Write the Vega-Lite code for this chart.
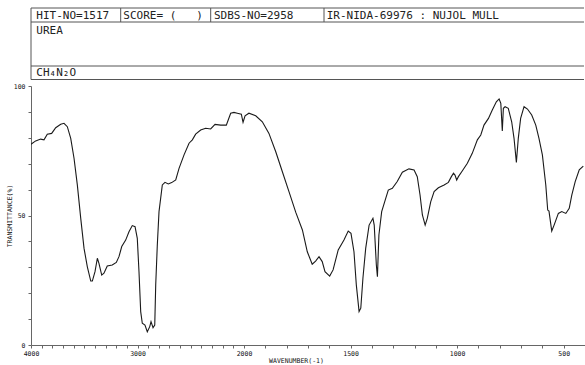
{
  "$schema": "https://vega.github.io/schema/vega-lite/v6.json",
  "background": "white",
  "padding": {"left": 6, "top": 7, "right": 0, "bottom": 0},
  "spacing": 3,
  "config": {
    "view": {"stroke": null},
    "axis": {
      "domainColor": "#666666",
      "tickColor": "#666666",
      "labelColor": "#111111",
      "titleColor": "#111111",
      "labelFont": "DejaVu Sans Mono",
      "titleFont": "DejaVu Sans Mono",
      "labelFontSize": 6.5,
      "titleFontSize": 6.5,
      "titleFontWeight": "normal",
      "grid": false,
      "tickSize": 3,
      "labelOverlap": false,
      "labelFlush": false
    }
  },
  "datasets": {
    "header_rules": [
      {"c1": 0, "c2": 553, "r1": 0, "r2": 0},
      {"c1": 0, "c2": 553, "r1": 14, "r2": 14},
      {"c1": 0, "c2": 553, "r1": 58, "r2": 58},
      {"c1": 0, "c2": 553, "r1": 71.5, "r2": 71.5},
      {"c1": 0, "c2": 0, "r1": 0, "r2": 71.5},
      {"c1": 89.7, "c2": 89.7, "r1": 0, "r2": 14},
      {"c1": 179.7, "c2": 179.7, "r1": 0, "r2": 14},
      {"c1": 293, "c2": 293, "r1": 0, "r2": 14}
    ],
    "header_text": [
      {"label": "HIT-NO=1517", "c": 5.3, "r": 7.5},
      {"label": "SCORE=\u00a0(\u00a0\u00a0\u00a0)", "c": 92.3, "r": 7.5},
      {"label": "SDBS-NO=2958", "c": 183, "r": 7.5},
      {"label": "IR-NIDA-69976 : NUJOL MULL", "c": 295.7, "r": 7.5},
      {"label": "UREA", "c": 5.3, "r": 22.5},
      {"label": "CH₄N₂O", "c": 5.3, "r": 64.5}
    ],
    "spectrum": [
      {"wn": 4000, "t": 77.5}, {"wn": 3956, "t": 78.8}, {"wn": 3909, "t": 79.5}, {"wn": 3878, "t": 79.2},
      {"wn": 3847, "t": 81.4}, {"wn": 3806, "t": 81.7}, {"wn": 3768, "t": 83.9}, {"wn": 3721, "t": 85.2},
      {"wn": 3690, "t": 85.6}, {"wn": 3659, "t": 84.3}, {"wn": 3627, "t": 79.8}, {"wn": 3596, "t": 72.1},
      {"wn": 3565, "t": 61.8}, {"wn": 3533, "t": 48.9}, {"wn": 3502, "t": 37.3}, {"wn": 3471, "t": 30.2},
      {"wn": 3439, "t": 24.7}, {"wn": 3424, "t": 24.7}, {"wn": 3399, "t": 28.3}, {"wn": 3377, "t": 33.5},
      {"wn": 3362, "t": 31.5}, {"wn": 3336, "t": 27.0}, {"wn": 3315, "t": 27.7}, {"wn": 3284, "t": 30.5},
      {"wn": 3237, "t": 30.9}, {"wn": 3199, "t": 31.9}, {"wn": 3174, "t": 34.1}, {"wn": 3148, "t": 38.0},
      {"wn": 3111, "t": 40.5}, {"wn": 3080, "t": 43.7}, {"wn": 3049, "t": 46.1}, {"wn": 3023, "t": 45.7},
      {"wn": 3002, "t": 41.2}, {"wn": 2986, "t": 28.3}, {"wn": 2970, "t": 12.9}, {"wn": 2955, "t": 8.4},
      {"wn": 2930, "t": 7.7}, {"wn": 2908, "t": 5.1}, {"wn": 2885, "t": 7.1}, {"wn": 2873, "t": 9.0},
      {"wn": 2854, "t": 6.7}, {"wn": 2838, "t": 7.7}, {"wn": 2829, "t": 23.2}, {"wn": 2814, "t": 38.6},
      {"wn": 2798, "t": 51.5}, {"wn": 2767, "t": 61.8}, {"wn": 2742, "t": 62.8}, {"wn": 2711, "t": 62.2},
      {"wn": 2679, "t": 62.7}, {"wn": 2641, "t": 63.7}, {"wn": 2610, "t": 68.2}, {"wn": 2563, "t": 73.4},
      {"wn": 2516, "t": 77.9}, {"wn": 2485, "t": 79.2}, {"wn": 2454, "t": 81.4}, {"wn": 2407, "t": 83.0},
      {"wn": 2360, "t": 83.7}, {"wn": 2313, "t": 83.4}, {"wn": 2272, "t": 85.2}, {"wn": 2219, "t": 84.9},
      {"wn": 2166, "t": 84.9}, {"wn": 2125, "t": 89.5}, {"wn": 2094, "t": 89.8}, {"wn": 2063, "t": 89.5},
      {"wn": 2025, "t": 89.1}, {"wn": 2009, "t": 86.0}, {"wn": 1995, "t": 88.5}, {"wn": 1977, "t": 89.5},
      {"wn": 1945, "t": 88.5}, {"wn": 1914, "t": 86.2}, {"wn": 1883, "t": 81.7}, {"wn": 1851, "t": 74.6},
      {"wn": 1820, "t": 66.9}, {"wn": 1789, "t": 59.2}, {"wn": 1757, "t": 51.2}, {"wn": 1726, "t": 44.4},
      {"wn": 1703, "t": 36.0}, {"wn": 1680, "t": 31.2}, {"wn": 1664, "t": 32.4}, {"wn": 1648, "t": 34.1},
      {"wn": 1633, "t": 32.2}, {"wn": 1620, "t": 28.3}, {"wn": 1598, "t": 26.6}, {"wn": 1582, "t": 29.0},
      {"wn": 1558, "t": 36.7}, {"wn": 1531, "t": 40.5}, {"wn": 1511, "t": 44.0}, {"wn": 1498, "t": 43.1},
      {"wn": 1484, "t": 36.0}, {"wn": 1473, "t": 23.2}, {"wn": 1460, "t": 12.9}, {"wn": 1452, "t": 14.2},
      {"wn": 1442, "t": 25.8}, {"wn": 1429, "t": 37.3}, {"wn": 1413, "t": 46.3}, {"wn": 1395, "t": 48.9},
      {"wn": 1389, "t": 46.3}, {"wn": 1379, "t": 30.9}, {"wn": 1374, "t": 26.4}, {"wn": 1367, "t": 42.5},
      {"wn": 1354, "t": 51.5}, {"wn": 1335, "t": 56.6}, {"wn": 1323, "t": 59.8}, {"wn": 1304, "t": 60.5},
      {"wn": 1281, "t": 63.1}, {"wn": 1257, "t": 66.7}, {"wn": 1226, "t": 68.0}, {"wn": 1202, "t": 67.6},
      {"wn": 1187, "t": 65.0}, {"wn": 1174, "t": 57.9}, {"wn": 1163, "t": 50.2}, {"wn": 1150, "t": 46.3},
      {"wn": 1140, "t": 48.9}, {"wn": 1124, "t": 55.3}, {"wn": 1108, "t": 59.2}, {"wn": 1088, "t": 60.7},
      {"wn": 1061, "t": 61.8}, {"wn": 1041, "t": 62.8}, {"wn": 1027, "t": 65.0}, {"wn": 1017, "t": 66.3},
      {"wn": 1010, "t": 65.6}, {"wn": 1002, "t": 63.7}, {"wn": 994, "t": 65.0}, {"wn": 976, "t": 67.2},
      {"wn": 952, "t": 70.2}, {"wn": 929, "t": 74.0}, {"wn": 905, "t": 79.2}, {"wn": 889, "t": 81.1},
      {"wn": 874, "t": 84.9}, {"wn": 853, "t": 87.5}, {"wn": 835, "t": 90.7}, {"wn": 816, "t": 93.9},
      {"wn": 803, "t": 95.0}, {"wn": 795, "t": 93.3}, {"wn": 788, "t": 82.6}, {"wn": 783, "t": 91.4},
      {"wn": 775, "t": 92.0}, {"wn": 760, "t": 91.4}, {"wn": 744, "t": 86.2}, {"wn": 733, "t": 79.8},
      {"wn": 722, "t": 70.5}, {"wn": 713, "t": 79.8}, {"wn": 702, "t": 87.5}, {"wn": 686, "t": 92.0},
      {"wn": 670, "t": 91.1}, {"wn": 650, "t": 88.8}, {"wn": 631, "t": 84.9}, {"wn": 616, "t": 79.8},
      {"wn": 600, "t": 73.4}, {"wn": 584, "t": 61.8}, {"wn": 575, "t": 52.1}, {"wn": 569, "t": 51.7},
      {"wn": 556, "t": 44.0}, {"wn": 545, "t": 46.3}, {"wn": 525, "t": 50.8}, {"wn": 509, "t": 51.5},
      {"wn": 490, "t": 50.8}, {"wn": 474, "t": 52.8}, {"wn": 462, "t": 57.9}, {"wn": 446, "t": 63.1},
      {"wn": 427, "t": 67.6}, {"wn": 408, "t": 69.1}
    ]
  },
  "vconcat": [
    {
      "width": 553,
      "height": 72,
      "layer": [
        {
          "data": {"name": "header_rules"},
          "mark": {"type": "rule", "color": "#555555", "strokeWidth": 1},
          "encoding": {
            "x": {"field": "c1", "type": "quantitative", "axis": null, "scale": {"domain": [0, 553], "nice": false, "zero": false}},
            "x2": {"field": "c2"},
            "y": {"field": "r1", "type": "quantitative", "axis": null, "scale": {"domain": [0, 72], "nice": false, "reverse": true}},
            "y2": {"field": "r2"}
          }
        },
        {
          "data": {"name": "header_text"},
          "mark": {"type": "text", "align": "left", "baseline": "middle", "font": "DejaVu Sans Mono", "fontSize": 11, "color": "#222222"},
          "encoding": {
            "x": {"field": "c", "type": "quantitative"},
            "y": {"field": "r", "type": "quantitative"},
            "text": {"field": "label"}
          }
        }
      ]
    },
    {
      "width": 553,
      "height": 259,
      "layer": [
        {
          "data": {"name": "spectrum"},
          "mark": {"type": "line", "color": "#1a1a1a", "strokeWidth": 1.1, "clip": true},
          "encoding": {
            "x": {
              "field": "wn",
              "type": "quantitative",
              "scale": {"domain": [4000, 2000, 400], "range": [0, 213, 554], "nice": false, "zero": false},
              "axis": {
                "title": "WAVENUMBER(-1)",
                "titlePadding": 1,
                "titleX": 265,
                "labelPadding": 2,
                "labelOverlap": false,
                "values": [4000, 3900, 3800, 3700, 3600, 3500, 3400, 3300, 3200, 3100, 3000, 2900, 2800, 2700, 2600, 2500, 2400, 2300, 2200, 2100, 2000, 1900, 1800, 1700, 1600, 1500, 1400, 1300, 1200, 1100, 1000, 900, 800, 700, 600, 500],
                "labelExpr": "indexof([4000, 3000, 2000, 1500, 1000, 500], datum.value) >= 0 ? format(datum.value, 'd') : ''"
              }
            },
            "y": {
              "field": "t",
              "type": "quantitative",
              "scale": {"domain": [0, 100], "nice": false, "zero": false},
              "axis": {
                "title": "TRANSMITTANCE(%)",
                "titlePadding": 1,
                "labelPadding": 3,
                "labelOverlap": false,
                "values": [0, 10, 20, 30, 40, 50, 60, 70, 80, 90, 100],
                "labelExpr": "(datum.value == 0 || datum.value == 50 || datum.value == 100) ? format(datum.value, 'd') : ''"
              }
            }
          }
        },
        {
          "mark": {"type": "rule", "color": "#666666", "strokeWidth": 1},
          "encoding": {
            "y": {
              "datum": 100,
              "type": "quantitative",
              "axis": {
                "title": "TRANSMITTANCE(%)",
                "titlePadding": 1,
                "labelPadding": 3,
                "labelOverlap": false,
                "values": [0, 10, 20, 30, 40, 50, 60, 70, 80, 90, 100],
                "labelExpr": "(datum.value == 0 || datum.value == 50 || datum.value == 100) ? format(datum.value, 'd') : ''"
              }
            }
          }
        }
      ]
    }
  ]
}
